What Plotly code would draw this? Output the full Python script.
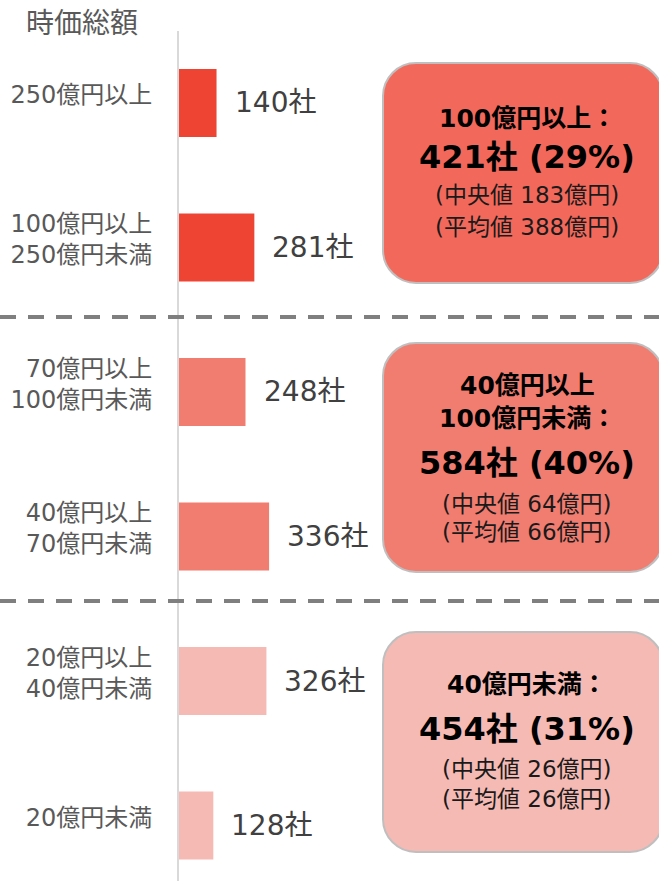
import plotly.graph_objects as go

# data
categories = ["250億円以上", "100億円以上<br>250億円未満", "70億円以上<br>100億円未満",
              "40億円以上<br>70億円未満", "20億円以上<br>40億円未満", "20億円未満"]
counts = [140, 281, 248, 336, 326, 128]

group_titles = ["100億円以上：", "40億円以上<br>100億円未満：", "40億円未満："]
group_counts = [421, 584, 454]
group_shares = [29, 40, 31]
group_medians = [183, 64, 26]
group_means = [388, 66, 26]

# styles
bar_colors = ["#EE4434", "#EE4434", "#F17D71", "#F17D71", "#F6BAB5", "#F6BAB5"]
box_colors = ["#F2695C", "#F17D71", "#F6BAB5"]
FONT = "DejaVu Sans, Noto Sans CJK JP, sans-serif"

W, H = 659, 881
L, T = 179, 31
PW, PH = W - L, H - T


def px_x(p):
    return (p - L) / PW


def px_y(p):
    return (H - p) / PH


def round_box(x0, y0, x1, y1, r):
    # pixel box -> paper path with rounded corners
    k = 0.552
    ax0, ax1 = px_x(x0), px_x(x1)
    ay0, ay1 = px_y(y1), px_y(y0)  # bottom, top
    rx, ry = r / PW, r / PH
    return (f"M{ax0+rx},{ay1} L{ax1-rx},{ay1} "
            f"C{ax1-rx+k*rx},{ay1} {ax1},{ay1-ry+k*ry} {ax1},{ay1-ry} "
            f"L{ax1},{ay0+ry} "
            f"C{ax1},{ay0+ry-k*ry} {ax1-rx+k*rx},{ay0} {ax1-rx},{ay0} "
            f"L{ax0+rx},{ay0} "
            f"C{ax0+rx-k*rx},{ay0} {ax0},{ay0+ry-k*ry} {ax0},{ay0+ry} "
            f"L{ax0},{ay1-ry} "
            f"C{ax0},{ay1-ry+k*ry} {ax0+rx-k*rx},{ay1} {ax0+rx},{ay1} Z")


def box_text(text, yy, size, color):
    fig.add_annotation(x=px_x(527), y=px_y(yy), xref="paper", yref="paper",
                       text=text, showarrow=False, xanchor="center", yanchor="middle",
                       font=dict(family=FONT, size=size, color=color))


fig = go.Figure(go.Bar(
    x=counts, y=categories, orientation="h",
    marker=dict(color=bar_colors, line=dict(width=0)),
    width=0.47, hoverinfo="skip",
))

# value labels next to bars
for c, v in zip(categories, counts):
    fig.add_annotation(x=v, y=c, xref="x", yref="y", text=f"{v}社",
                       showarrow=False, xanchor="left", yanchor="middle", xshift=16,
                       font=dict(family=FONT, size=28, color="#404040"))

# dashed separators
for yy in [317, 601]:
    fig.add_shape(type="line", xref="paper", yref="paper",
                  x0=px_x(0), x1=px_x(W), y0=px_y(yy), y1=px_y(yy),
                  line=dict(color="#7F7F7F", width=4, dash="16px,12px"))

# summary boxes
boxes = [(383, 63, 663, 283), (383, 343, 663, 572), (383, 632, 663, 852)]
title_y = [[119], [385, 418], [684]]
count_y = [157, 463, 729]
med_y = [195, 504, 769]
mean_y = [227, 532, 799]
for i, b in enumerate(boxes):
    fig.add_shape(type="path", xref="paper", yref="paper",
                  path=round_box(*b, 33), fillcolor=box_colors[i],
                  line=dict(color="#BFBFBF", width=2), layer="below")
    for t, yy in zip(group_titles[i].split("<br>"), title_y[i]):
        box_text(f"<b>{t}</b>", yy, 25, "#000000")
    box_text(f"<b>{group_counts[i]}社 ({group_shares[i]}%)</b>", count_y[i], 32, "#000000")
    box_text(f"(中央値 {group_medians[i]}億円)", med_y[i], 23, "#1A1A1A")
    box_text(f"(平均値 {group_means[i]}億円)", mean_y[i], 23, "#1A1A1A")

# axis title
fig.add_annotation(x=px_x(24), y=px_y(24), xref="paper", yref="paper",
                   text="時価総額", showarrow=False, xanchor="left", yanchor="middle",
                   font=dict(family=FONT, size=28, color="#595959"))

fig.update_layout(
    width=W, height=H,
    margin=dict(l=L, r=0, t=T, b=0),
    plot_bgcolor="white", paper_bgcolor="white",
    showlegend=False,
    xaxis=dict(visible=False, range=[0, 1790], fixedrange=True),
    yaxis=dict(
        range=[5.384, -0.498], showgrid=False, zeroline=False,
        showline=True, linecolor="#D9D9D9", linewidth=2,
        ticks="", ticklabelstandoff=20, ticklabelshift=8, fixedrange=True,
        tickfont=dict(family=FONT, size=24, color="#595959"),
    ),
)

fig.write_html("out.html", config={"displayModeBar": False},
               post_script="document.body.style.margin='0';")
